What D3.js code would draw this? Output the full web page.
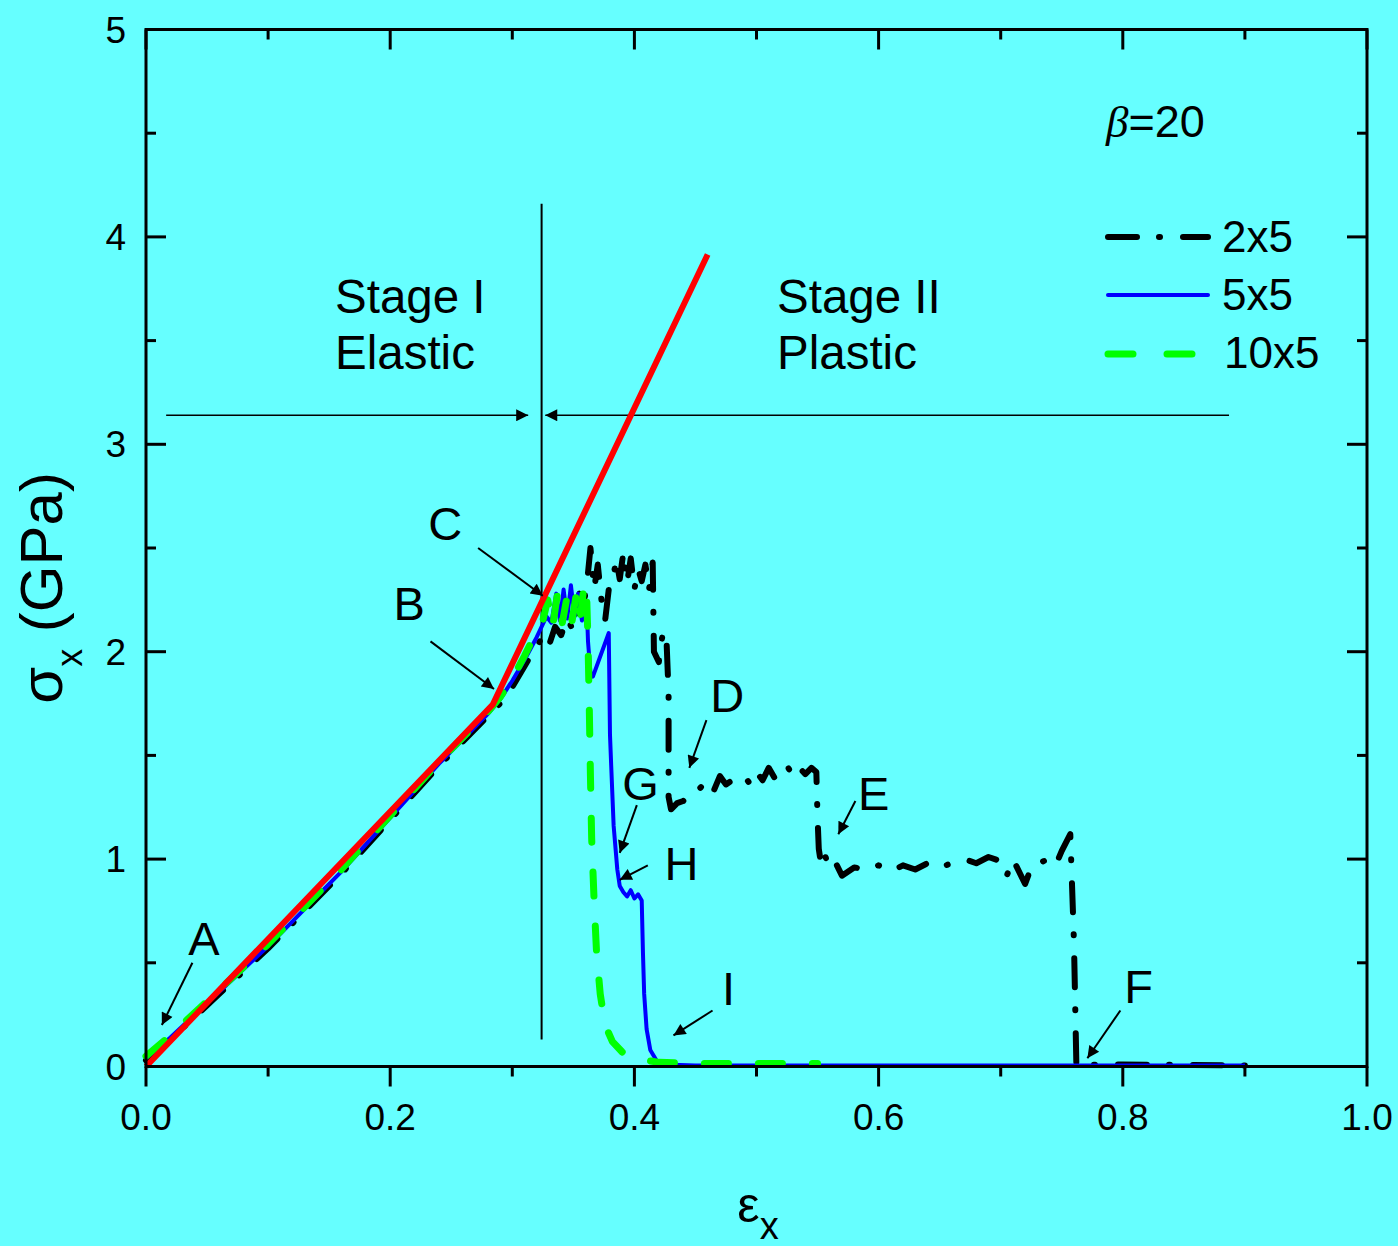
<!DOCTYPE html>
<html>
<head>
<meta charset="utf-8">
<script src="https://cdn.jsdelivr.net/npm/d3@7"></script>
<style>
  body { margin: 0; background: #66ffff; }
  svg { display: block; font-family: "Liberation Sans", Arial, sans-serif; }
</style>
</head>
<body>
<div id="chart"></div>
<script>
// stress-strain curves, beta = 20
var xTicks = [0.0, 0.2, 0.4, 0.6, 0.8, 1.0];
var yTicks = [0, 1, 2, 3, 4, 5];

var redFit = [[0, 0], [0.284, 1.745], [0.46, 3.915]];

var mesh2x5 = [
  [0, 0.03], [0.02, 0.13], [0.04, 0.24], [0.06, 0.35], [0.08, 0.46], [0.10, 0.57],
  [0.12, 0.69], [0.14, 0.81], [0.16, 0.93], [0.18, 1.06], [0.20, 1.19], [0.22, 1.32],
  [0.24, 1.45], [0.26, 1.57], [0.28, 1.69], [0.29, 1.75], [0.30, 1.83], [0.31, 1.93],
  [0.315, 1.98], [0.32, 2.02], [0.325, 2.08], [0.330, 2.03], [0.335, 2.12], [0.340, 2.08],
  [0.345, 2.16], [0.350, 2.10], [0.355, 2.28], [0.358, 2.20], [0.362, 2.38], [0.364, 2.50],
  [0.367, 2.30], [0.370, 2.42], [0.373, 2.25], [0.376, 2.15], [0.379, 2.30], [0.382, 2.32],
  [0.385, 2.45], [0.388, 2.35], [0.391, 2.48], [0.394, 2.33], [0.397, 2.45], [0.400, 2.30],
  [0.403, 2.40], [0.406, 2.34], [0.409, 2.42], [0.412, 2.30], [0.415, 2.43], [0.416, 2.00],
  [0.420, 1.95], [0.423, 2.08], [0.426, 2.10], [0.428, 1.80], [0.428, 1.30], [0.430, 1.24],
  [0.435, 1.27], [0.440, 1.28], [0.445, 1.31], [0.450, 1.32], [0.455, 1.35], [0.460, 1.38],
  [0.465, 1.33], [0.470, 1.40], [0.475, 1.36], [0.480, 1.38], [0.490, 1.40], [0.495, 1.36],
  [0.500, 1.42], [0.505, 1.38], [0.510, 1.44], [0.515, 1.39], [0.520, 1.43], [0.525, 1.45],
  [0.530, 1.40], [0.535, 1.44], [0.540, 1.41], [0.545, 1.44], [0.549, 1.42], [0.550, 1.20],
  [0.551, 1.05], [0.553, 0.97], [0.556, 1.02], [0.560, 0.95], [0.565, 0.98], [0.570, 0.92],
  [0.580, 0.96], [0.590, 0.95], [0.600, 0.97], [0.610, 0.94], [0.620, 0.97], [0.630, 0.95],
  [0.640, 0.98], [0.650, 0.96], [0.660, 0.98], [0.670, 1.00], [0.680, 0.98], [0.690, 1.01],
  [0.700, 0.99], [0.705, 0.92], [0.710, 1.00], [0.720, 0.88], [0.725, 0.96], [0.730, 0.98],
  [0.740, 1.00], [0.745, 0.97], [0.750, 1.04], [0.757, 1.12], [0.760, 0.60], [0.762, 0.00],
  [0.780, 0.01], [0.800, 0.01], [0.900, 0.005]
];

var mesh5x5 = [
  [0, 0.04], [0.02, 0.14], [0.04, 0.25], [0.06, 0.36], [0.08, 0.47], [0.10, 0.58],
  [0.12, 0.70], [0.14, 0.82], [0.16, 0.94], [0.18, 1.07], [0.20, 1.20], [0.22, 1.33],
  [0.24, 1.46], [0.26, 1.58], [0.28, 1.70], [0.29, 1.77], [0.30, 1.86], [0.31, 1.96],
  [0.32, 2.07], [0.328, 2.17], [0.332, 2.14], [0.336, 2.28], [0.339, 2.15], [0.342, 2.30],
  [0.345, 2.16], [0.348, 2.32], [0.351, 2.17], [0.354, 2.28], [0.357, 2.15], [0.361, 2.22],
  [0.362, 2.05], [0.364, 1.90], [0.366, 1.88], [0.379, 2.09], [0.380, 1.60], [0.381, 1.45],
  [0.383, 1.16], [0.386, 0.95], [0.388, 0.87], [0.391, 0.84], [0.394, 0.82], [0.397, 0.85],
  [0.400, 0.81], [0.403, 0.83], [0.406, 0.80], [0.407, 0.55], [0.408, 0.35], [0.410, 0.18],
  [0.413, 0.08], [0.418, 0.03], [0.425, 0.01], [0.450, 0.005], [0.900, 0.005]
];

var mesh10x5 = [
  [0, 0.05], [0.02, 0.15], [0.04, 0.26], [0.06, 0.37], [0.08, 0.48], [0.10, 0.59],
  [0.12, 0.71], [0.14, 0.83], [0.16, 0.95], [0.18, 1.08], [0.20, 1.21], [0.22, 1.34],
  [0.24, 1.47], [0.26, 1.59], [0.28, 1.71], [0.29, 1.78], [0.30, 1.87], [0.31, 1.98],
  [0.32, 2.10], [0.325, 2.15], [0.329, 2.25], [0.333, 2.12], [0.337, 2.28], [0.341, 2.14],
  [0.345, 2.27], [0.349, 2.15], [0.353, 2.30], [0.356, 2.18], [0.359, 2.33], [0.361, 2.25],
  [0.362, 2.05], [0.363, 1.75], [0.364, 1.40], [0.365, 1.10], [0.367, 0.80], [0.369, 0.55],
  [0.372, 0.35], [0.376, 0.20], [0.382, 0.12], [0.390, 0.07], [0.400, 0.04], [0.420, 0.02],
  [0.450, 0.015], [0.550, 0.015]
];

// letter labels: text, label centre x / baseline y, arrow start, arrow tip (data units)
var marks = [
  ["A", 0.0475, 0.538, 0.038, 0.50, 0.013, 0.20],
  ["B", 0.2156, 2.154, 0.233, 2.05, 0.285, 1.82],
  ["C", 0.245, 2.54, 0.272, 2.50, 0.325, 2.27],
  ["D", 0.476, 1.71, 0.459, 1.67, 0.445, 1.44],
  ["E", 0.596, 1.237, 0.581, 1.28, 0.567, 1.12],
  ["F", 0.813, 0.306, 0.798, 0.27, 0.771, 0.04],
  ["G", 0.405, 1.286, 0.402, 1.26, 0.388, 1.03],
  ["H", 0.4385, 0.90, 0.411, 0.97, 0.388, 0.90],
  ["I", 0.477, 0.297, 0.464, 0.27, 0.432, 0.15]
];

var W = 1398, H = 1246;
var svg = d3.select("#chart").append("svg").attr("width", W).attr("height", H);
svg.append("rect").attr("width", W).attr("height", H).attr("fill", "#66ffff");

var x = d3.scaleLinear().domain([0, 1]).range([146, 1367]);
var y = d3.scaleLinear().domain([0, 5]).range([1066.5, 29.5]);

var defs = svg.append("defs");
defs.append("marker").attr("id", "head")
    .attr("viewBox", "0 0 10 10").attr("refX", 10).attr("refY", 5)
    .attr("markerWidth", 20).attr("markerHeight", 12).attr("markerUnits", "userSpaceOnUse")
    .attr("orient", "auto")
  .append("path").attr("d", "M0,0 L10,5 L0,10 Z").attr("fill", "#000");

// stage divider and arrows
svg.append("line").attr("x1", x(0.324)).attr("x2", x(0.324))
    .attr("y1", y(4.16)).attr("y2", y(0.13)).attr("stroke", "#000").attr("stroke-width", 2);
svg.append("line").attr("x1", x(0.0165)).attr("x2", x(0.313))
    .attr("y1", y(3.14)).attr("y2", y(3.14)).attr("stroke", "#000").attr("stroke-width", 1.5)
    .attr("marker-end", "url(#head)");
svg.append("line").attr("x1", x(0.887)).attr("x2", x(0.327))
    .attr("y1", y(3.14)).attr("y2", y(3.14)).attr("stroke", "#000").attr("stroke-width", 1.5)
    .attr("marker-end", "url(#head)");

var line = d3.line().x(function(d) { return x(d[0]); }).y(function(d) { return y(d[1]); });

svg.append("path").datum(mesh2x5).attr("d", line).attr("fill", "none")
    .attr("stroke", "#000").attr("stroke-width", 6).attr("stroke-linecap", "round")
    .attr("stroke-linejoin", "round").attr("stroke-dasharray", "29,22,1,23");
svg.append("path").datum(mesh5x5).attr("d", line).attr("fill", "none")
    .attr("stroke", "#0000ff").attr("stroke-width", 4).attr("stroke-linejoin", "round");
svg.append("path").datum(mesh10x5).attr("d", line).attr("fill", "none")
    .attr("stroke", "#00ff00").attr("stroke-width", 7).attr("stroke-linecap", "round")
    .attr("stroke-linejoin", "round").attr("stroke-dasharray", "24,30");
svg.append("path").datum(redFit).attr("d", line).attr("fill", "none")
    .attr("stroke", "#ff0000").attr("stroke-width", 6);

// frame and ticks
svg.append("rect").attr("x", x(0)).attr("y", y(5)).attr("width", x(1) - x(0))
    .attr("height", y(0) - y(5)).attr("fill", "none").attr("stroke", "#000").attr("stroke-width", 3);

var xMinor = d3.range(0, 1.01, 0.1);
var yMinor = d3.range(0, 5.01, 0.5);
var tk = svg.append("g").attr("stroke", "#000").attr("stroke-width", 3);
xMinor.forEach(function(v, i) {
  var len = i % 2 === 0 ? 20 : 10;
  tk.append("line").attr("x1", x(v)).attr("x2", x(v)).attr("y1", y(0)).attr("y2", y(0) + len);
  tk.append("line").attr("x1", x(v)).attr("x2", x(v)).attr("y1", y(5)).attr("y2", y(5) + len);
});
yMinor.forEach(function(v, i) {
  var len = i % 2 === 0 ? 20 : 10;
  tk.append("line").attr("x1", x(0)).attr("x2", x(0) + len).attr("y1", y(v)).attr("y2", y(v));
  tk.append("line").attr("x1", x(1)).attr("x2", x(1) - len).attr("y1", y(v)).attr("y2", y(v));
});

svg.selectAll("text.xt").data(xTicks).enter().append("text")
    .attr("x", function(d) { return x(d); }).attr("y", 1130)
    .attr("text-anchor", "middle").attr("font-size", 37)
    .text(function(d) { return d.toFixed(1); });
svg.selectAll("text.yt").data(yTicks).enter().append("text")
    .attr("x", 126).attr("y", function(d) { return y(d) + 13; })
    .attr("text-anchor", "end").attr("font-size", 37)
    .text(function(d) { return d; });

// axis titles
var xt = svg.append("text").attr("x", 758).attr("y", 1222).attr("text-anchor", "middle");
xt.append("tspan").attr("font-size", 50).text("ε");
xt.append("tspan").attr("font-size", 38).attr("dy", 17).text("x");

var yt = svg.append("text").attr("transform", "translate(62,588) rotate(-90)")
    .attr("text-anchor", "middle");
yt.append("tspan").attr("font-size", 60).text("σ");
yt.append("tspan").attr("font-size", 36).attr("dy", 20).text("x");
yt.append("tspan").attr("font-size", 60).attr("dy", -20).text(" (GPa)");

// stage labels
[["Stage I", 335, 313], ["Elastic", 335, 369], ["Stage II", 777, 313], ["Plastic", 777, 369]]
  .forEach(function(t) {
    svg.append("text").attr("x", t[1]).attr("y", t[2]).attr("font-size", 47.5).text(t[0]);
  });

// beta label and legend
var bt = svg.append("text").attr("x", 1106).attr("y", 137).attr("font-size", 45);
bt.append("tspan").attr("font-family", "Liberation Serif, serif").attr("font-style", "italic").text("β");
bt.append("tspan").text("=20");

var legend = [
  ["2x5", "#000", 6, "29,22,1,23", 237, 252, 1222, "round"],
  ["5x5", "#0000ff", 4, null, 295, 310, 1222, "round"],
  ["10x5", "#00ff00", 7, "25,34", 354, 368, 1224, "round"]
];
legend.forEach(function(l) {
  svg.append("line").attr("x1", 1108).attr("x2", 1208).attr("y1", l[4]).attr("y2", l[4])
      .attr("stroke", l[1]).attr("stroke-width", l[2]).attr("stroke-linecap", l[7])
      .attr("stroke-dasharray", l[3]);
  svg.append("text").attr("x", l[6]).attr("y", l[5]).attr("font-size", 44).text(l[0]);
});

// letter annotations
marks.forEach(function(m) {
  svg.append("text").attr("x", x(m[1])).attr("y", y(m[2]))
      .attr("text-anchor", "middle").attr("font-size", 47).text(m[0]);
  svg.append("line").attr("x1", x(m[3])).attr("y1", y(m[4]))
      .attr("x2", x(m[5])).attr("y2", y(m[6]))
      .attr("stroke", "#000").attr("stroke-width", 2).attr("marker-end", "url(#head)");
});
</script>
</body>
</html>
